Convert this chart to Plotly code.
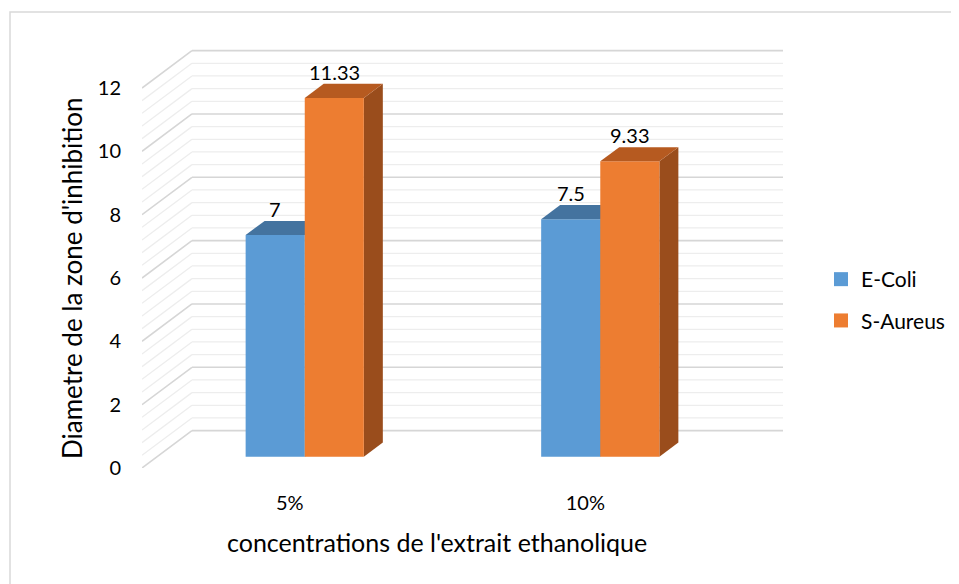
import plotly.graph_objects as go
import numpy as np

categories = ["5%", "10%"]
series_names = ["E-Coli", "S-Aureus"]
ecoli = [7, 7.5]
saureus = [11.33, 9.33]
value_labels_ecoli = ["7", "7.5"]
value_labels_saureus = ["11.33", "9.33"]
y_ticks = [0, 2, 4, 6, 8, 10, 12]

FRONT = ["#5B9BD5", "#ED7D31"]
TOP = ["#44739F", "#B65A20"]
SIDE = ["#3F6C96", "#9A4D1C"]

FONT = "Lato"
DX = 0.169   # depth offset in x-axis units
DY = 1.18    # depth offset in y-axis units
F1, F2 = 0.30, 0.68  # bar depth range (fraction of floor depth)
BW = 0.2     # bar width in category units

fig = go.Figure()

def add_lines(vals, color, width):
    xs, ys = [], []
    for v in vals:
        xs += [-0.5, -0.5 + DX, None]
        ys += [v, v + DY, None]
        xs += [-0.5 + DX, len(categories) - 0.5 + DX, None]
        ys += [v + DY, v + DY, None]
    fig.add_trace(go.Scatter(x=xs, y=ys, mode="lines", line=dict(color=color, width=width),
                             hoverinfo="skip", showlegend=False))

minor_vals = [round(v, 2) for v in np.arange(0, 12.01, 0.4) if abs(v / 2 - round(v / 2)) > 1e-6]
add_lines(minor_vals, "#ededed", 1.3)
add_lines(y_ticks, "#d6d6d6", 1.6)

def poly(xs, ys, color):
    fig.add_trace(go.Scatter(x=xs + [xs[0]], y=ys + [ys[0]], mode="lines", fill="toself",
                             fillcolor=color, line=dict(width=0, color=color),
                             hoverinfo="skip", showlegend=False))

series = [ecoli, saureus]
labels = [value_labels_ecoli, value_labels_saureus]
for si, vals in enumerate(series):
    for ci, v in enumerate(vals):
        x0 = ci - BW + si * BW
        x1 = x0 + BW
        ox1, oy1 = F1 * DX, F1 * DY
        ox2, oy2 = F2 * DX, F2 * DY
        poly([x1 + ox1, x1 + ox2, x1 + ox2, x1 + ox1],
             [oy1, oy2, v + oy2, v + oy1], SIDE[si])
        poly([x0 + ox1, x1 + ox1, x1 + ox1, x0 + ox1],
             [oy1, oy1, v + oy1, v + oy1], FRONT[si])
        poly([x0 + ox1, x1 + ox1, x1 + ox2, x0 + ox2],
             [v + oy1, v + oy1, v + oy2, v + oy2], TOP[si])
        fig.add_annotation(x=(x0 + x1) / 2 + ox1, y=v + oy2, text=labels[si][ci],
                           showarrow=False, yanchor="bottom", yshift=-2,
                           font=dict(family=FONT, size=20, color="#000000"))

for si, name in enumerate(series_names):
    fig.add_trace(go.Scatter(x=[None], y=[None], mode="markers", name=name,
                             legendgroup=name,
                             marker=dict(symbol="square", size=14, color=FRONT[si])))

# page body has an 8px margin; work in window pixels minus that offset
OFF = 8
W, H = 959 - OFF, 584 - OFF
PL, PR, PT, PB = 142 - OFF, 783 - OFF, 49 - OFF, 468 - OFF
L, R, T, B = PL, W - PR, PT, H - PB
pw, ph = PR - PL, PB - PT

def px(xw):
    return (xw - OFF - PL) / pw

def py(yw):
    return (PB - (yw - OFF)) / ph

fig.add_shape(type="rect", xref="paper", yref="paper",
              x0=px(10), x1=px(985), y0=py(600), y1=py(12),
              line=dict(color="#d9d9d9", width=1.5), fillcolor="rgba(0,0,0,0)", layer="below")

fig.add_annotation(xref="paper", yref="paper", x=px(437), y=py(542),
                   text="concentrations de l'extrait ethanolique", showarrow=False,
                   xanchor="center", yanchor="middle", font=dict(family=FONT, size=25))
fig.add_annotation(xref="paper", yref="paper", x=px(72), y=py(278),
                   text="Diametre de la zone d'inhibition", showarrow=False, textangle=-90,
                   xanchor="center", yanchor="middle", font=dict(family=FONT, size=26))

fig.update_layout(
    width=W, height=H,
    margin=dict(l=L, r=R, t=T, b=B, autoexpand=False),
    paper_bgcolor="white", plot_bgcolor="white",
    font=dict(family=FONT, size=20, color="#000000"),
    xaxis=dict(range=[-0.5, len(categories) - 0.5 + DX], tickvals=[0, 1], ticktext=categories,
               showgrid=False, zeroline=False, showline=False, ticks="",
               ticklabelstandoff=21, tickfont=dict(size=20), fixedrange=True),
    yaxis=dict(range=[0, 12 + (88 - 49) / 31.67], tickvals=y_ticks,
               showgrid=False, zeroline=False, showline=False, ticks="",
               ticklabelstandoff=20, tickfont=dict(size=20), fixedrange=True),
    legend=dict(x=px(821), y=py(259), xanchor="left", yanchor="top",
                font=dict(size=21), tracegroupgap=11, bgcolor="rgba(0,0,0,0)"),
    showlegend=True,
)

fig.write_html("out.html")
